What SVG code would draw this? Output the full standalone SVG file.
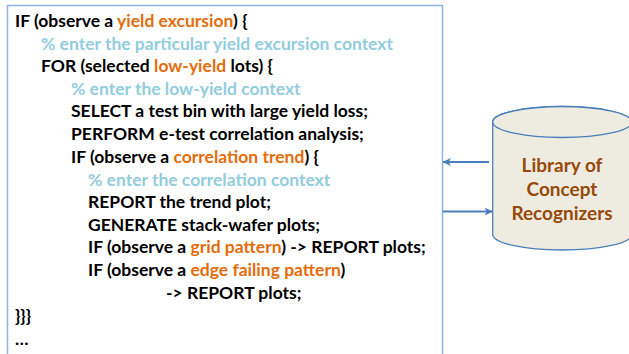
<svg xmlns="http://www.w3.org/2000/svg" width="629" height="354" viewBox="0 0 629 354">
<defs>
<style>
.code{font-family:Lato,"Liberation Sans",sans-serif;font-weight:bold;font-size:17.5px;fill:#000}
.hl{fill:#E46C0A}
.cm{fill:#93CDDD}
.lib{font-family:Lato,"Liberation Sans",sans-serif;font-weight:bold;font-size:19px;fill:#984807;text-anchor:middle}
.conn{stroke:#4A7EBB;stroke-width:2.2;fill:none}
</style>
<marker id="ah" viewBox="0 0 10 10" refX="9" refY="5" markerWidth="4" markerHeight="4" orient="auto-start-reverse" markerUnits="strokeWidth">
<path d="M0,0.5 L9.5,5 L0,9.5 L2.5,5 Z" fill="#4A7EBB"/>
</marker>
</defs>
<rect width="629" height="354" fill="#fff"/>
<g id="code-box">
<rect x="7.5" y="5.5" width="435" height="360" fill="#fff" stroke="#8EB4E3" stroke-width="1.5"/>
<text class="code" x="15" y="27">IF (observe a <tspan class="hl">yield excursion</tspan>) {</text>
<text class="code cm" x="41" y="50">% enter the particular yield excursion context</text>
<text class="code" x="41" y="72">FOR (selected <tspan class="hl">low-yield</tspan> lots) {</text>
<text class="code cm" x="71" y="95">% enter the low-yield context</text>
<text class="code" x="71" y="117">SELECT a test bin with large yield loss;</text>
<text class="code" x="71" y="140">PERFORM e-test correlation analysis;</text>
<text class="code" x="71" y="163">IF (observe a <tspan class="hl">correlation trend</tspan>) {</text>
<text class="code cm" x="88" y="186">% enter the correlation context</text>
<text class="code" x="88" y="208">REPORT the trend plot;</text>
<text class="code" x="88" y="231">GENERATE stack-wafer plots;</text>
<text class="code" x="88" y="253">IF (observe a <tspan class="hl">grid pattern</tspan>) -&gt; REPORT plots;</text>
<text class="code" x="88" y="276">IF (observe a <tspan class="hl">edge failing pattern</tspan>)</text>
<text class="code" x="166" y="299">-&gt; REPORT plots;</text>
<text class="code" x="15" y="322">}}}</text>
<text class="code" x="15" y="345">…</text>
</g>
<g id="library">
<path d="M492.7,122 L492.7,234.5 A69.5,15.5 0 0 0 631.7,234.5 L631.7,122 A69.5,15.5 0 0 0 492.7,122 Z" fill="#EEECE1" stroke="#4A7EBB" stroke-width="1.3"/>
<ellipse cx="562.2" cy="122" rx="69.5" ry="15.5" fill="#EEECE1" stroke="#4A7EBB" stroke-width="1.3"/>
<text class="lib" x="562" y="172">Library of</text>
<text class="lib" x="562" y="196">Concept</text>
<text class="lib" x="562" y="220">Recognizers</text>
</g>
<g id="connectors">
<path class="conn" d="M489,162 L443,162" marker-end="url(#ah)"/>
<path class="conn" d="M443,211.5 L492.5,211.5" marker-end="url(#ah)"/>
</g>
</svg>
